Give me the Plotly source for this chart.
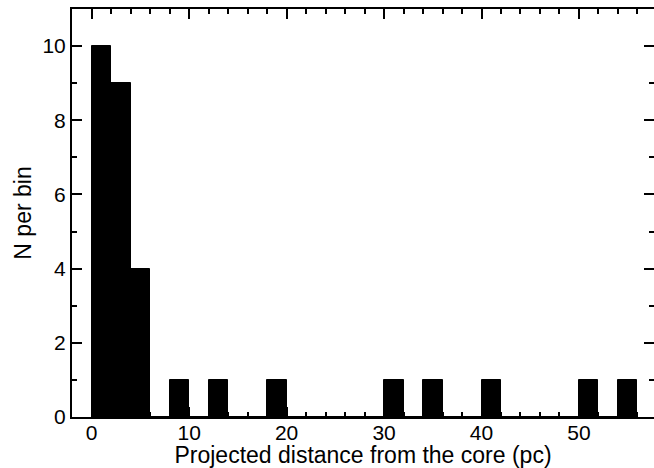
import plotly.graph_objects as go

bin_left = list(range(0, 56, 2))
counts = [10, 9, 4, 0, 1, 0, 1, 0, 0, 1, 0, 0, 0, 0, 0, 1, 0, 1, 0, 0, 1, 0, 0, 0, 0, 1, 0, 1]
bin_width = 2

fig = go.Figure(go.Bar(
    x=bin_left, y=counts, width=bin_width, offset=0,
    marker=dict(color="black", line=dict(color="black", width=1)),
))

tick_font = dict(family="Liberation Sans, Arial, sans-serif", size=21, color="black")
title_font = dict(family="Liberation Sans, Arial, sans-serif", size=23, color="black")
axis_common = dict(
    showgrid=False, zeroline=False, showline=True, linecolor="black", linewidth=2,
    mirror="ticks", ticks="inside", ticklen=10, tickwidth=1.5, tickcolor="black",
    tickfont=tick_font, automargin=False,
)
fig.update_layout(
    width=654, height=468,
    margin=dict(l=72, r=0, t=9, b=51),
    plot_bgcolor="white", paper_bgcolor="white",
    showlegend=False, bargap=0,
    font=tick_font,
)
fig.update_xaxes(
    range=[-2.02, 57.7], dtick=10, tick0=0,
    minor=dict(dtick=2, tick0=0, ticks="inside", ticklen=5, tickwidth=1.5, tickcolor="black"),
    ticklabelstandoff=-4,
    title=dict(text="Projected distance from the core (pc)", font=title_font, standoff=6),
    **axis_common,
)
fig.update_yaxes(
    range=[0, 11], dtick=2, tick0=0,
    minor=dict(dtick=1, tick0=0, ticks="inside", ticklen=5, tickwidth=1.5, tickcolor="black"),
    title=dict(text="N per bin", font=title_font, standoff=4),
    **axis_common,
)
fig.write_html(
    "out.html", config={"displayModeBar": False},
    post_script=("document.body.style.margin='0';"
                 "document.body.style.overflow='hidden';"
                 "document.documentElement.style.overflow='hidden';"),
)
